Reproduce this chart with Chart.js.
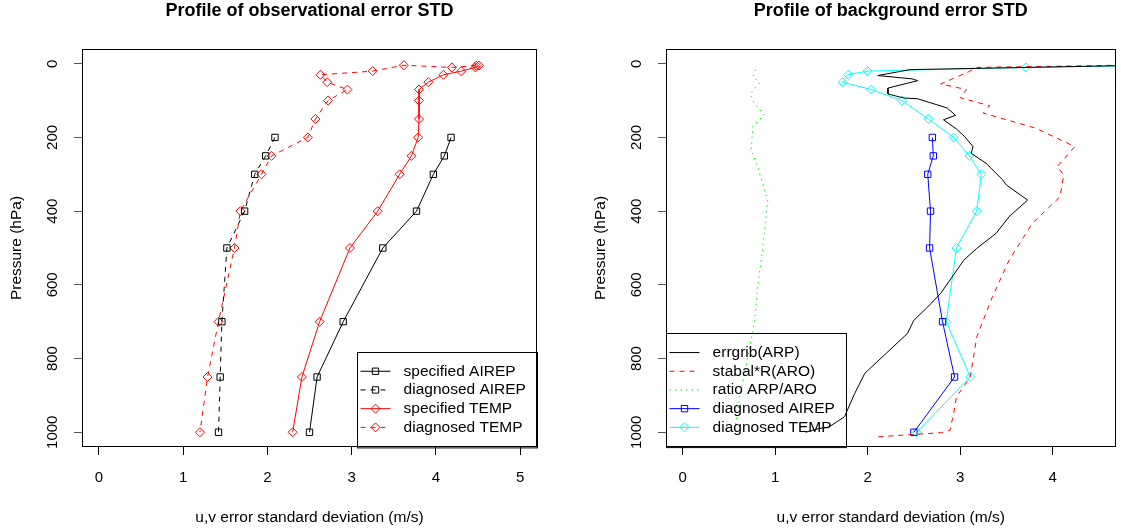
<!DOCTYPE html>
<html lang="en">
<head>
<meta charset="UTF-8">
<title>Profiles of observational and background error STD</title>
<style>
    body {
        margin: 0;
        background: #fff;
    }
    .panel {
        position: absolute;
        top: 0;
        height: 530px;
    }
    #left { left: 0; width: 560px; }
    #right { left: 560px; width: 561px; }
</style>
</head>
<body>
<div class="panel" id="left"><canvas id="obsChart"></canvas></div>
<div class="panel" id="right"><canvas id="bgChart"></canvas></div>

<script src="https://cdn.jsdelivr.net/npm/chart.js"></script>
<script>
    // ticks
    const yTicks = [0, 200, 400, 600, 800, 1000];
    const obsXTicks = [0, 1, 2, 3, 4, 5];
    const bgXTicks = [0, 1, 2, 3, 4];

    // left panel: observational error (pressure in hPa, std in m/s)
    const airepLevels = [200, 250, 300, 400, 500, 700, 850, 1000];
    const specAirep = [4.18, 4.10, 3.97, 3.77, 3.37, 2.90, 2.59, 2.50];
    const diagAirep = [2.09, 1.98, 1.85, 1.73, 1.52, 1.46, 1.44, 1.42];
    const specTempLevels = [5, 10, 20, 30, 50, 70, 100, 150, 200, 250, 300, 400, 500, 700, 850, 1000];
    const specTemp = [4.51, 4.47, 4.30, 4.09, 3.91, 3.80, 3.80, 3.80, 3.79, 3.71, 3.57, 3.31, 2.98, 2.62, 2.41, 2.30];
    const diagTempLevels = [5, 10, 4, 20, 30, 50, 70, 100, 150, 200, 250, 300, 400, 500, 700, 850, 1000];
    const diagTemp = [4.48, 4.19, 3.62, 3.25, 2.63, 2.71, 2.95, 2.72, 2.57, 2.48, 2.05, 1.93, 1.68, 1.61, 1.42, 1.29, 1.20];

    // right panel: background error
    const errgribLevels = [3, 16, 32, 41, 46, 66, 82, 93, 95, 120, 140, 152, 177, 198, 225, 243, 270, 315, 329, 370,
        415, 460, 501, 533, 623, 660, 696, 732, 840, 895, 958, 986, 990, 1000];
    const errgrib = [5.2, 2.46, 2.11, 2.48, 2.54, 2.22, 2.22, 2.39, 2.54, 2.86, 2.95, 2.82, 2.96, 3.05, 3.14, 3.12, 3.28, 3.46, 3.50, 3.73,
        3.53, 3.39, 3.18, 3.04, 2.79, 2.65, 2.50, 2.43, 1.97, 1.86, 1.75, 1.58, 1.47, 1.33];
    const stabalLevels = [1, 10, 22, 55, 70, 92, 114, 134, 175, 225, 279, 302, 361, 433, 533, 632, 741, 850, 904, 949, 995, 1001, 1013];
    const stabal = [5.5, 3.18, 3.09, 2.79, 3.07, 3.00, 3.32, 3.25, 3.82, 4.24, 4.05, 4.12, 4.08, 3.78, 3.53, 3.35, 3.18, 3.11, 2.96, 2.93, 2.89, 2.80, 2.07];
    const ratioLevels = [16, 34, 52, 82, 105, 139, 170, 234, 279, 370, 514, 605, 696, 777, 913, 1000];
    const ratio = [0.79, 0.76, 0.83, 0.73, 0.77, 0.88, 0.76, 0.74, 0.81, 0.92, 0.86, 0.81, 0.78, 0.72, 0.61, 0.56];
    const bgAirep = [2.70, 2.71, 2.65, 2.68, 2.67, 2.81, 2.94, 2.50];
    const bgTempLevels = [5, 10, 20, 30, 50, 70, 100, 150, 200, 250, 300, 400, 500, 700, 850, 1000];
    const bgTemp = [5.0, 3.71, 2.00, 1.79, 1.73, 2.04, 2.37, 2.66, 2.93, 3.10, 3.23, 3.18, 2.96, 2.85, 3.11, 2.53];

    const FONT = '"Liberation Sans", Arial, sans-serif';
    Chart.defaults.font.family = FONT;
    Chart.defaults.font.size = 15;
    Chart.defaults.color = '#000';

    function pts(xs, levels) {
        return xs.map((x, i) => ({ x: x, y: levels[i] }));
    }

    // R style series: thin line, hollow markers
    function series(label, xs, levels, color, dash, marker) {
        return {
            label: label,
            data: pts(xs, levels),
            showLine: true,
            borderColor: color,
            borderWidth: 1,
            borderDash: dash,
            pointStyle: marker || 'circle',
            pointRadius: marker ? 4.5 : 0,
            pointBorderWidth: 1,
            pointBorderColor: color,
            pointBackgroundColor: 'rgba(0,0,0,0)'
        };
    }

    function drawMarker(ctx, style, r, x, y) {
        ctx.beginPath();
        if (style === 'rect') {
            const s = r * Math.SQRT1_2;
            ctx.rect(x - s, y - s, 2 * s, 2 * s);
        } else {
            ctx.moveTo(x - r, y);
            ctx.lineTo(x, y - r);
            ctx.lineTo(x + r, y);
            ctx.lineTo(x, y + r);
            ctx.closePath();
        }
        ctx.stroke();
    }

    // box round the plot region
    const plotBox = {
        id: 'plotBox',
        afterDraw(chart) {
            const a = chart.chartArea, ctx = chart.ctx;
            const x1 = Math.round(a.left) + 0.5, x2 = Math.round(a.right) - 0.5;
            const y1 = Math.round(a.top) + 0.5, y2 = Math.round(a.bottom) - 0.5;
            ctx.save();
            ctx.strokeStyle = '#000';
            ctx.lineWidth = 1;
            ctx.strokeRect(x1, y1, x2 - x1, y2 - y1);
            ctx.restore();
        }
    };

    // legend in a corner of the plot, drawn the way R does it
    const rLegend = {
        id: 'rLegend',
        afterDraw(chart, args, opts) {
            const a = chart.chartArea, ctx = chart.ctx;
            const rowH = 18.7, pad = 10.3, w = opts.width;
            const sets = chart.data.datasets;
            const h = sets.length * rowH + 2 * pad;
            const x0 = opts.corner === 'bottomright' ? a.right - w : a.left;
            const y0 = a.bottom - h;
            ctx.save();
            ctx.lineWidth = 1;
            ctx.strokeStyle = '#000';
            ctx.strokeRect(Math.round(x0) + 0.5, Math.round(y0) + 0.5, w, h);
            ctx.font = '15.5px ' + FONT;
            ctx.textBaseline = 'middle';
            ctx.fillStyle = '#000';
            sets.forEach((ds, i) => {
                const y = y0 + pad + rowH * (i + 0.5);
                ctx.strokeStyle = ds.borderColor;
                ctx.setLineDash(ds.borderDash || []);
                ctx.beginPath();
                ctx.moveTo(x0 + 3.5, y);
                ctx.lineTo(x0 + 33.5, y);
                ctx.stroke();
                ctx.setLineDash([]);
                if (ds.pointRadius) drawMarker(ctx, ds.pointStyle, ds.pointRadius, x0 + 18.5, y);
                ctx.fillText(ds.label, x0 + 46.6, y);
            });
            ctx.restore();
        }
    };

    function makeOptions(title, xMin, xMax, xTicks, yWidth, rightPad, yTitlePad, legendCorner) {
        return {
            responsive: true,
            maintainAspectRatio: false,
            animation: false,
            events: [],
            layout: { padding: { left: 0, right: rightPad, top: 0, bottom: 0 } },
            plugins: {
                legend: { display: false },
                tooltip: { enabled: false },
                title: {
                    display: true,
                    text: title,
                    fullSize: false,
                    color: '#000',
                    font: { size: 18, weight: 'bold' },
                    padding: { top: 0.7, bottom: 26.7 }
                },
                rLegend: { corner: legendCorner, width: 180 }
            },
            scales: {
                x: {
                    type: 'linear',
                    min: xMin,
                    max: xMax,
                    afterBuildTicks: s => { s.ticks = xTicks.map(v => ({ value: v })); },
                    afterFit: s => { s.height = 83; },
                    grid: { drawOnChartArea: false, tickLength: 8, color: '#000' },
                    border: { display: false },
                    ticks: { autoSkip: false, maxRotation: 0, padding: 14, callback: v => String(v) },
                    title: {
                        display: true,
                        text: 'u,v error standard deviation (m/s)',
                        font: { size: 15.5 },
                        padding: { top: 0, bottom: 2.7 }
                    }
                },
                y: {
                    type: 'linear',
                    reverse: true,
                    min: -40,
                    max: 1040,
                    afterBuildTicks: s => { s.ticks = yTicks.map(v => ({ value: v })); },
                    afterFit: s => { s.width = yWidth; },
                    grid: { drawOnChartArea: false, tickLength: 8, color: '#555' },
                    border: { display: false },
                    ticks: {
                        autoSkip: false,
                        minRotation: 90,
                        maxRotation: 90,
                        crossAlign: 'center',
                        padding: 4,
                        callback: v => String(v)
                    },
                    title: {
                        display: true,
                        text: 'Pressure (hPa)',
                        font: { size: 15.5 },
                        padding: { top: yTitlePad, bottom: 0 }
                    }
                }
            }
        };
    }

    new Chart(document.getElementById('obsChart'), {
        type: 'scatter',
        data: {
            datasets: [
                series('specified AIREP', specAirep, airepLevels, '#000000', [], 'rect'),
                series('diagnosed AIREP', diagAirep, airepLevels, '#000000', [5, 5], 'rect'),
                series('specified TEMP', specTemp, specTempLevels, '#ff0000', [], 'rectRot'),
                series('diagnosed TEMP', diagTemp, diagTempLevels, '#ff0000', [5, 5], 'rectRot')
            ]
        },
        options: makeOptions('Profile of observational error STD', -0.2, 5.2, obsXTicks, 82, 23, 7.2, 'bottomright'),
        plugins: [plotBox, rLegend]
    });

    new Chart(document.getElementById('bgChart'), {
        type: 'scatter',
        data: {
            datasets: [
                series('errgrib(ARP)', errgrib, errgribLevels, '#000000', []),
                series('stabal*R(ARO)', stabal, stabalLevels, '#ff0000', [5, 5]),
                series('ratio ARP/ARO', ratio, ratioLevels, '#00ff00', [1.5, 4]),
                series('diagnosed AIREP', bgAirep, airepLevels, '#0000ff', [], 'rect'),
                series('diagnosed TEMP', bgTemp, bgTempLevels, '#00ffff', [], 'rectRot')
            ]
        },
        options: makeOptions('Profile of background error STD', -0.18, 4.68, bgXTicks, 106, 0, 31, 'bottomleft'),
        plugins: [plotBox, rLegend]
    });
</script>
</body>
</html>
